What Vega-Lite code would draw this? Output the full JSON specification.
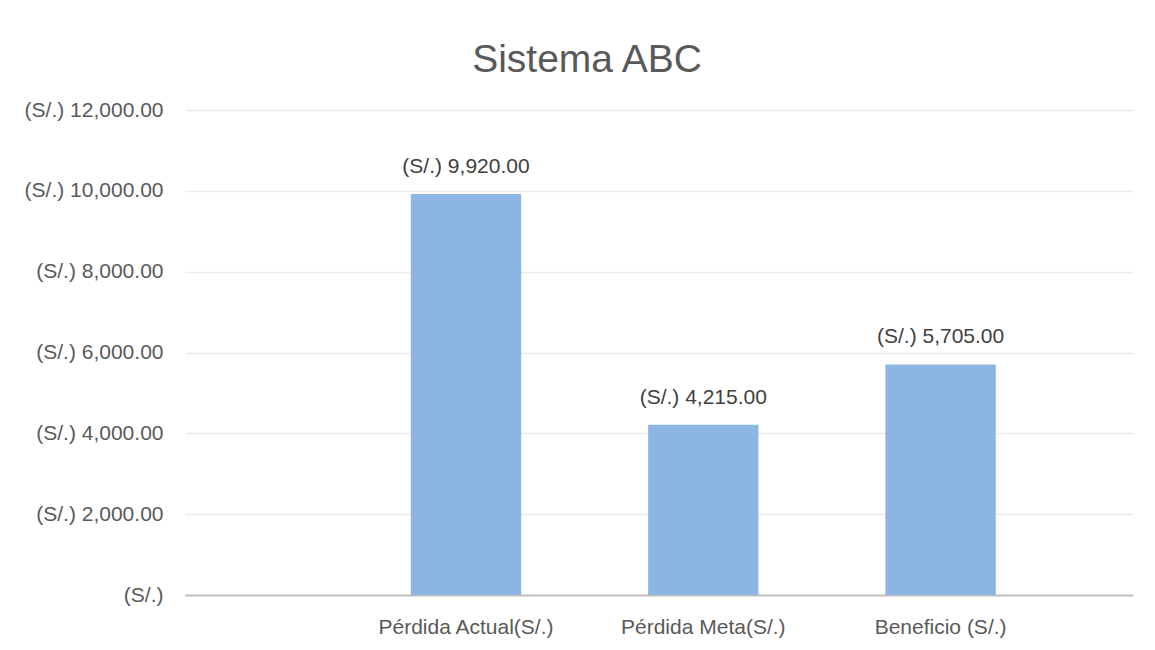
{
  "$schema": "https://vega.github.io/schema/vega-lite/v6.json",
  "autosize": {"type": "none"},
  "width": 948,
  "height": 485,
  "padding": {"left": 185, "top": 110, "right": 22, "bottom": 55},
  "background": "white",
  "title": {
    "text": "Sistema ABC",
    "font": "Liberation Sans",
    "fontSize": 39,
    "fontWeight": "normal",
    "color": "#595959",
    "anchor": "middle",
    "frame": "group",
    "dx": -72,
    "dy": 47,
    "baseline": "alphabetic",
    "offset": 35
  },
  "data": {
    "values": [
      {"categoria": "Pérdida Actual(S/.)", "valor": 9920},
      {"categoria": "Pérdida Meta(S/.)", "valor": 4215},
      {"categoria": "Beneficio (S/.)", "valor": 5705}
    ]
  },
  "transform": [
    {"calculate": "'(S/.) ' + format(datum.valor, ',.2f')", "as": "etiqueta"}
  ],
  "encoding": {
    "x": {
      "field": "categoria",
      "type": "nominal",
      "sort": null,
      "scale": {"paddingInner": 0.535, "paddingOuter": 0.765, "align": 0.622},
      "axis": {
        "title": null,
        "labelAngle": 0,
        "ticks": false,
        "domainColor": "#BFBFBF",
        "domainWidth": 2,
        "labelFont": "Liberation Sans",
        "labelFontSize": 21,
        "labelColor": "#595959",
        "labelPadding": 21,
        "labelLimit": 400
      }
    },
    "y": {
      "field": "valor",
      "type": "quantitative",
      "scale": {"domain": [0, 12000], "nice": false},
      "axis": {
        "title": null,
        "values": [0, 2000, 4000, 6000, 8000, 10000, 12000],
        "domain": false,
        "ticks": false,
        "gridColor": "#EBEBEB",
        "gridWidth": 1.5,
        "labelFont": "Liberation Sans",
        "labelFontSize": 21,
        "labelColor": "#595959",
        "labelPadding": 22,
        "labelLimit": 400,
        "labelExpr": "datum.value == 0 ? '(S/.)' : '(S/.) ' + format(datum.value, ',.2f')"
      }
    }
  },
  "layer": [
    {"mark": {"type": "bar", "color": "#8CB6E1"}},
    {
      "mark": {"type": "text", "baseline": "middle", "dy": -27, "font": "Liberation Sans", "fontSize": 21, "color": "#404040"},
      "encoding": {"text": {"field": "etiqueta"}}
    }
  ],
  "config": {"view": {"stroke": null}}
}
